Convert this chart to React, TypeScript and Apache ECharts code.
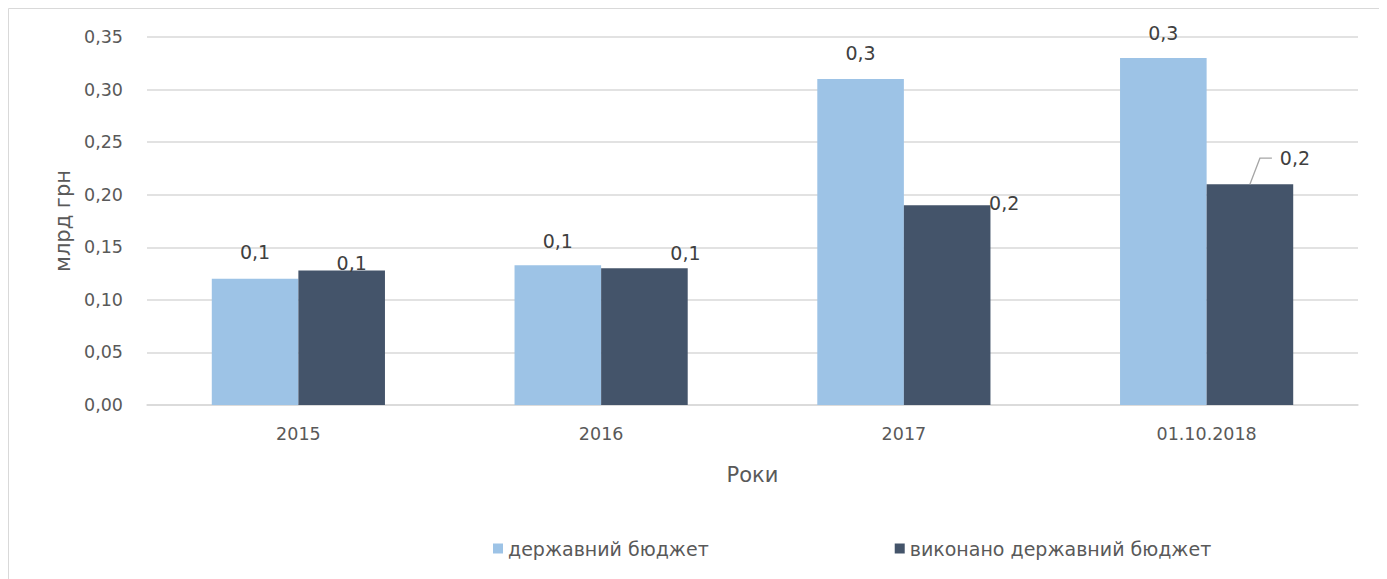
import React, { useEffect, useRef } from "react";
import * as echarts from "echarts";

const categories = ["2015", "2016", "2017", "01.10.2018"];
const stateBudget = [0.12, 0.133, 0.31, 0.33];
const executedBudget = [0.128, 0.13, 0.19, 0.21];
const seriesNames = ["державний бюджет", "виконано державний бюджет"];
const yTicks = { min: 0, max: 0.35, interval: 0.05 };

// label shifts (style only), relative to the default 'top' label position
const stateOffsets = [[0, -11], [0, -8], [0, -10], [0, -9]];
const executedOffsets = [[10, 9], [41, 1], [57, 14], [45, -10]];
const leaderLineIndex = 3;

const FONT = "'DejaVu Sans', sans-serif";
const fmt1 = (v: number) => v.toFixed(1).replace(".", ",");

export default function App() {
  const ref = useRef<HTMLDivElement>(null);
  useEffect(() => {
    if (!ref.current) return;
    const chart = echarts.init(ref.current, undefined, { renderer: "svg" });
    const labelBase = {
      show: true,
      position: "top",
      distance: 5,
      fontFamily: FONT,
      fontSize: 19,
      lineHeight: 22,
      color: "#404040",
      formatter: (p: any) => fmt1(p.value),
    };
    const makeLayout = (offsets: number[][]) => (params: any) => {
      const [dx, dy] = offsets[params.dataIndex];
      return { dx, dy };
    };
    const borders = [
      { id: "bt", type: "line", shape: { x1: 0.5, y1: 0.5, x2: 1400, y2: 0.5 }, style: { stroke: "#d9d9d9", lineWidth: 1 } },
      { id: "bl", type: "line", shape: { x1: 0.5, y1: 0.5, x2: 0.5, y2: 600 }, style: { stroke: "#d9d9d9", lineWidth: 1 } },
    ];
    chart.setOption({
      animation: false,
      backgroundColor: "#fff",
      textStyle: { fontFamily: FONT },
      graphic: borders,
      grid: { left: 139, right: 29, top: 29, bottom: 174 },
      legend: {
        left: 480,
        top: 526,
        icon: "rect",
        itemWidth: 10,
        itemHeight: 10,
        itemGap: 186,
        textStyle: { fontFamily: FONT, fontSize: 19, color: "#595959" },
        data: seriesNames,
      },
      xAxis: {
        type: "category",
        data: categories,
        name: "Роки",
        nameLocation: "middle",
        nameGap: 59,
        nameTextStyle: { fontFamily: FONT, fontSize: 21, color: "#595959" },
        axisLine: { lineStyle: { color: "#d9d9d9", width: 1.5 } },
        axisTick: { show: false },
        axisLabel: { fontFamily: FONT, fontSize: 17.5, color: "#595959", margin: 20 },
      },
      yAxis: {
        type: "value",
        min: yTicks.min,
        max: yTicks.max,
        interval: yTicks.interval,
        name: "млрд грн",
        nameLocation: "middle",
        nameGap: 73,
        nameRotate: 90,
        nameTextStyle: { fontFamily: FONT, fontSize: 21, color: "#595959" },
        axisLine: { show: false },
        axisTick: { show: false },
        splitLine: { lineStyle: { color: "#d9d9d9", width: 1.5 } },
        axisLabel: {
          fontFamily: FONT,
          fontSize: 17.5,
          color: "#595959",
          margin: 24,
          formatter: (v: number) => v.toFixed(2).replace(".", ","),
        },
      },
      series: [
        {
          name: seriesNames[0],
          type: "bar",
          barWidth: "28.6%",
          barGap: "0%",
          itemStyle: { color: "#9dc3e6" },
          label: labelBase,
          labelLayout: makeLayout(stateOffsets),
          data: stateBudget,
        },
        {
          name: seriesNames[1],
          type: "bar",
          barWidth: "28.6%",
          barGap: "0%",
          itemStyle: { color: "#44546a" },
          label: labelBase,
          labelLayout: makeLayout(executedOffsets),
          data: executedBudget,
        },
      ],
    });
    // leader line for the moved label, anchored on the bar layout computed by ECharts
    try {
      const data = (chart as any).getModel().getSeriesByIndex(1).getData();
      const lay = data.getItemLayout(leaderLineIndex);
      if (lay) {
        const sx = lay.x + lay.width / 2;
        const sy = Math.min(lay.y, lay.y + lay.height);
        chart.setOption({
          graphic: [
            ...borders,
            {
              id: "leader",
              type: "polyline",
              shape: { points: [[sx, sy], [sx + 10, sy - 26], [sx + 22, sy - 26]] },
              style: { stroke: "#a6a6a6", lineWidth: 1.3, fill: null },
              z: 10,
            },
          ],
        });
      }
    } catch (e) {
      /* ignore */
    }
    return () => chart.dispose();
  }, []);
  return <div ref={ref} style={{ width: 1379, height: 571 }} />;
}
